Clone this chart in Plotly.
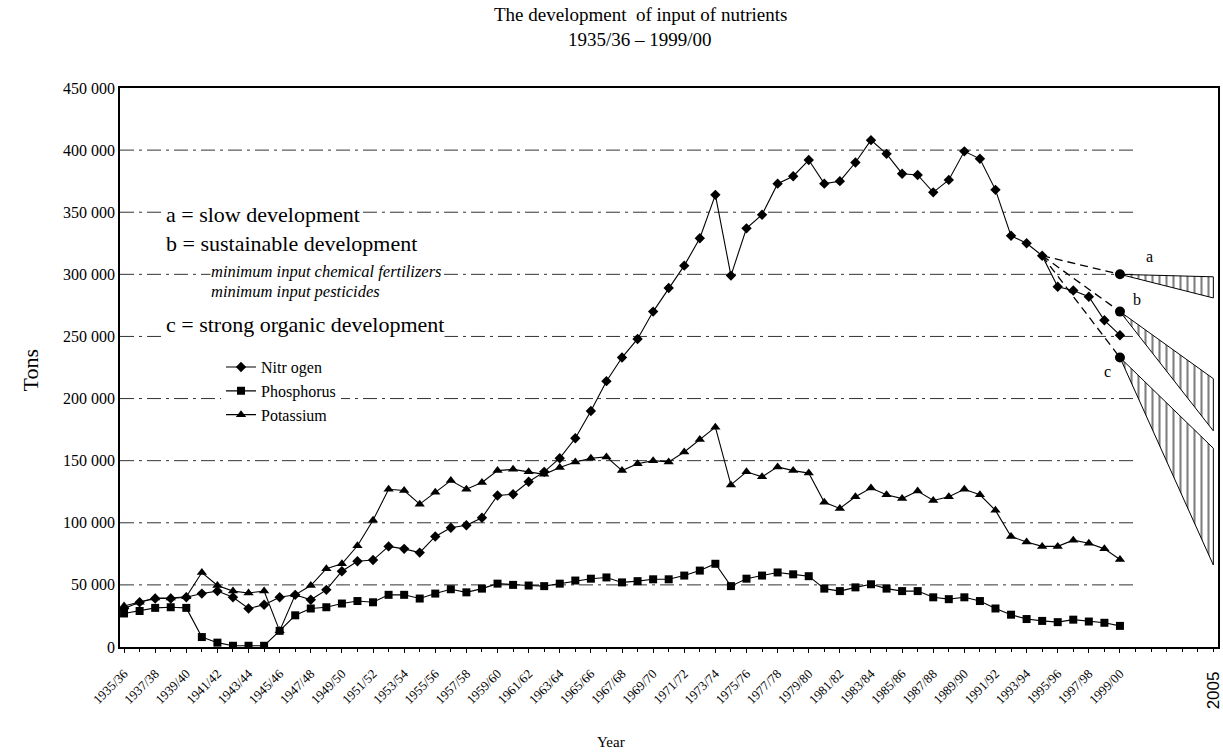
import plotly.graph_objects as go

# ---------------- data ----------------
years = ["1935/36", "1936/37", "1937/38", "1938/39", "1939/40", "1940/41", "1941/42", "1942/43",
         "1943/44", "1944/45", "1945/46", "1946/47", "1947/48", "1948/49", "1949/50", "1950/51",
         "1951/52", "1952/53", "1953/54", "1954/55", "1955/56", "1956/57", "1957/58", "1958/59",
         "1959/60", "1960/61", "1961/62", "1962/63", "1963/64", "1964/65", "1965/66", "1966/67",
         "1967/68", "1968/69", "1969/70", "1970/71", "1971/72", "1972/73", "1973/74", "1974/75",
         "1975/76", "1976/77", "1977/78", "1978/79", "1979/80", "1980/81", "1981/82", "1982/83",
         "1983/84", "1984/85", "1985/86", "1986/87", "1987/88", "1988/89", "1989/90", "1990/91",
         "1991/92", "1992/93", "1993/94", "1994/95", "1995/96", "1996/97", "1997/98", "1998/99",
         "1999/00"]

nitrogen = [31000, 36000, 39000, 39000, 40000, 43000, 45000, 40000, 31000, 34000,
            40000, 42000, 38000, 46000, 61000, 69000, 70000, 81000, 79000, 76000,
            89000, 96000, 98000, 104000, 122000, 123000, 133000, 141000, 152000, 168000,
            190000, 214000, 233000, 248000, 270000, 289000, 307000, 329000, 364000, 299000,
            337000, 348000, 373000, 379000, 392000, 373000, 375000, 390000, 408000, 397000,
            381000, 380000, 366000, 376000, 399000, 393000, 368000, 331000, 325000, 315000,
            290000, 287000, 282000, 263000, 251000]

phosphorus = [27000, 29000, 31500, 32000, 31500, 8000, 3500, 1000, 1000, 1000,
              13000, 25500, 31000, 32000, 35000, 37000, 36000, 42000, 42000, 39000,
              43000, 46500, 44000, 47000, 51000, 50000, 49500, 49000, 51000, 53500,
              55000, 56000, 52000, 53000, 54500, 54500, 57500, 61500, 67000, 49000,
              55000, 57500, 60000, 58500, 57000, 47000, 45000, 48000, 50500, 47000,
              45000, 45000, 40000, 38500, 40000, 37000, 31000, 26000, 22500, 21000,
              20000, 22000, 20500, 19500, 17000]

potassium = [33000, 36000, 39500, 39500, 40500, 60000, 49500, 45000, 43500, 45000,
             13000, 42000, 49500, 63000, 67000, 81500, 102000, 127000, 126000, 115000,
             124500, 134000, 127000, 132500, 142000, 143000, 141000, 139000, 144500, 149000,
             152000, 153000, 142000, 147500, 150000, 149000, 157000, 167000, 177000, 130500,
             141000, 137000, 145000, 142000, 140000, 116500, 111500, 121000, 128000, 122500,
             119500, 125500, 118000, 121000, 127000, 122500, 110000, 89000, 84500, 81000,
             81000, 86000, 83500, 79000, 70500]

# scenarios (nitrogen input), starting from 1994/95
scenario_names = ["a", "b", "c"]
scenario_start_year = "1994/95"
scenario_end_year = "1999/00"
scenario_end_values = [300000, 270000, 233000]
band_top_2005 = [298000, 216000, 160000]
band_bottom_2005 = [281000, 174000, 66000]
end_label = "2005"

title_lines = ["The development  of input of nutrients", "1935/36 – 1999/00"]

y_ticks = list(range(0, 450001, 50000))

# ---------------- positions ----------------
xs = list(range(len(years)))
x_start = years.index(scenario_start_year)
x_end = years.index(scenario_end_year)
x_2005 = len(years) + 5  # 2005 position on the same yearly scale
x_min = -0.26
x_max = x_2005 + 0.3
grid_end = x_end + 1.0

SERIF = "Liberation Serif"

fig = go.Figure()

# dash-dot gridlines that stop before the scenario bands
for v in y_ticks[1:-1]:
    fig.add_shape(type="line", xref="x", yref="y", x0=x_min, x1=grid_end, y0=v, y1=v,
                  line=dict(color="#333333", width=1, dash="14px,5px,3px,5px"), layer="below")

line_style = dict(color="black", width=1.1)
fig.add_trace(go.Scatter(x=xs, y=nitrogen, mode="lines+markers", name="Nitr ogen",
                         line=line_style,
                         marker=dict(symbol="diamond", size=8, color="black")))
fig.add_trace(go.Scatter(x=xs, y=phosphorus, mode="lines+markers", name="Phosphorus",
                         line=line_style,
                         marker=dict(symbol="square", size=8, color="black")))
fig.add_trace(go.Scatter(x=xs, y=potassium, mode="lines+markers", name="Potassium",
                         line=line_style,
                         marker=dict(symbol="triangle-up", size=9, color="black")))

# scenario bands and dashed projections
for name, v_end, top, bot in zip(scenario_names, scenario_end_values, band_top_2005, band_bottom_2005):
    fig.add_trace(go.Scatter(x=[x_end, x_2005, x_2005, x_end], y=[v_end, top, bot, v_end],
                             mode="lines", fill="toself", showlegend=False,
                             fillcolor="rgba(0,0,0,0)",
                             fillpattern=dict(shape="|", fgcolor="black", bgcolor="white",
                                              size=7, solidity=0.3),
                             line=dict(color="black", width=1), hoverinfo="skip"))
    fig.add_trace(go.Scatter(x=[x_start, x_end], y=[nitrogen[x_start], v_end],
                             mode="lines", showlegend=False,
                             line=dict(color="black", width=1.3, dash="8px,5px")))
    fig.add_trace(go.Scatter(x=[x_end], y=[v_end], mode="markers", showlegend=False,
                             marker=dict(symbol="circle", size=10, color="black")))

# scenario letters
letter_pos = {"a": (65.9, 314000), "b": (65.1, 280000), "c": (63.2, 222000)}
for name in scenario_names:
    lx, ly = letter_pos[name]
    fig.add_annotation(x=lx, y=ly, text=name, showarrow=False, xanchor="center", yanchor="middle",
                       font=dict(family=SERIF, size=16, color="black"))

# explanatory text block
text_lines = [
    ("a = slow development", 2.6, 348000, 22, False),
    ("b = sustainable development", 2.6, 325000, 22, False),
    ("minimum input chemical fertilizers", 5.5, 302000, 16.5, True),
    ("minimum input pesticides", 5.5, 286000, 16.5, True),
    ("c = strong organic development", 2.6, 259500, 22, False),
]
for txt, tx, ty, fs, ital in text_lines:
    fig.add_annotation(x=tx, y=ty, text=f"<i>{txt}</i>" if ital else txt, showarrow=False,
                       xanchor="left", yanchor="middle", bgcolor="white", borderpad=0,
                       font=dict(family=SERIF, size=fs, color="black"))

# title (two lines)
for txt, py in zip(title_lines, [1.1306, 1.0859]):
    fig.add_annotation(xref="paper", yref="paper", x=0.4736, y=py, text=txt, showarrow=False,
                       xanchor="center", yanchor="middle",
                       font=dict(family=SERIF, size=19, color="black"))

# 2005 label, axis titles
fig.add_annotation(x=x_2005, y=0, yref="y", text=end_label, showarrow=False, textangle=-90,
                   xanchor="center", yanchor="top", yshift=-22,
                   font=dict(family="Liberation Sans", size=17, color="black"))
fig.add_annotation(xref="paper", yref="paper", x=-0.0818, y=0.495, text="Tons", textangle=-90,
                   showarrow=False, xanchor="center", yanchor="middle",
                   font=dict(family=SERIF, size=22, color="black"))
fig.add_annotation(xref="paper", yref="paper", x=0.447, y=-0.17, text="Year",
                   showarrow=False, xanchor="center", yanchor="middle",
                   font=dict(family=SERIF, size=15, color="black"))

fig.update_layout(
    width=1223, height=756,
    paper_bgcolor="white", plot_bgcolor="white",
    margin=dict(l=120, r=3, t=88, b=109),
    legend=dict(x=0.092, y=0.531, xanchor="left", yanchor="top", bgcolor="white",
                font=dict(family=SERIF, size=16, color="black"), tracegroupgap=0),
    showlegend=True,
)

fig.update_xaxes(range=[x_min, x_max], tickmode="array",
                 tickvals=xs[::2], ticktext=years[::2], tickangle=-45,
                 tickfont=dict(family=SERIF, size=13, color="black"),
                 ticklabelstandoff=8,
                 showgrid=False, showline=True, linecolor="black", linewidth=2, mirror=True,
                 ticks="outside", ticklen=4, tickcolor="black",
                 minor=dict(dtick=1, ticks="outside", ticklen=3, tickcolor="black"),
                 zeroline=False)
fig.update_yaxes(range=[0, 450000], tickmode="array", tickvals=y_ticks,
                 ticktext=[f"{v:,}".replace(",", " ") for v in y_ticks],
                 tickfont=dict(family=SERIF, size=16, color="black"),
                 showgrid=False,
                 showline=True, linecolor="black", linewidth=1.5, mirror=True,
                 ticks="", zeroline=False)

fig.write_html("out.html", config={"displayModeBar": False},
               post_script="document.body.style.margin='0';")
